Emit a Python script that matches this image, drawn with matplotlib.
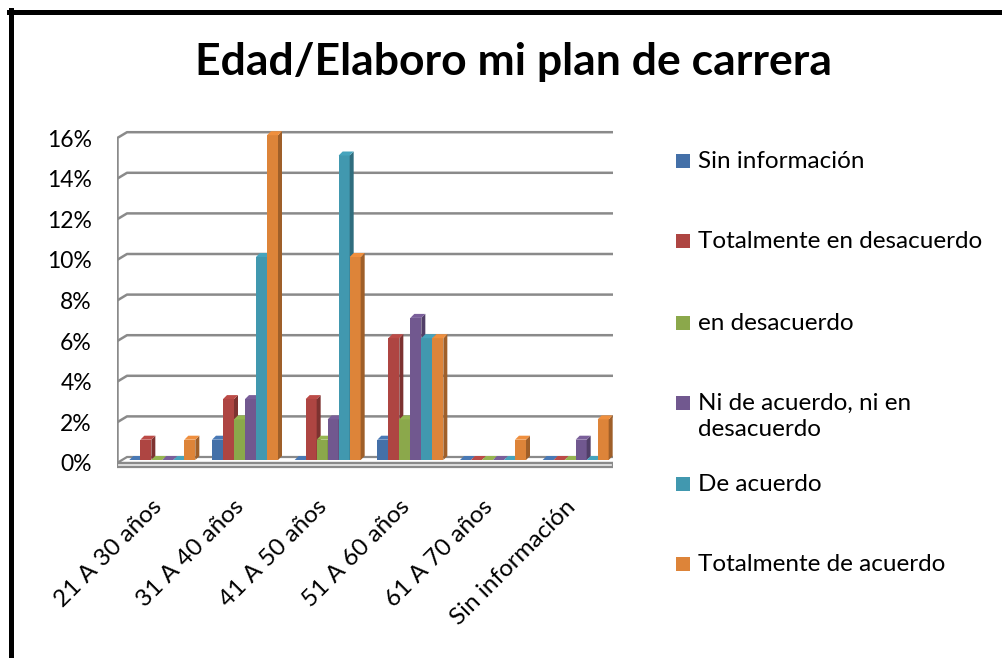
import numpy as np
import matplotlib
matplotlib.use("Agg")
import matplotlib.pyplot as plt
from matplotlib.patches import Polygon, Rectangle
from matplotlib.lines import Line2D
import matplotlib.colors as mcolors

plt.rcParams['font.family'] = ['Lato', 'DejaVu Sans']

# data (percent)
categories = ["21 A 30 años", "31 A 40 años", "41 A 50 años",
              "51 A 60 años", "61 A 70 años", "Sin información"]
series_names = ["Sin información", "Totalmente en desacuerdo", "en desacuerdo",
                "Ni de acuerdo, ni en\ndesacuerdo", "De acuerdo",
                "Totalmente de acuerdo"]
sin_info = [0, 1, 0, 1, 0, 0]
tot_desacuerdo = [1, 3, 3, 6, 0, 0]
en_desacuerdo = [0, 2, 1, 2, 0, 0]
ni_ni = [0, 3, 2, 7, 0, 1]
de_acuerdo = [0, 10, 15, 6, 0, 0]
tot_acuerdo = [1, 16, 10, 6, 1, 2]
yticks = [0, 2, 4, 6, 8, 10, 12, 14, 16]

series = [sin_info, tot_desacuerdo, en_desacuerdo, ni_ni, de_acuerdo, tot_acuerdo]
colors = ["#4470a8", "#ae4542", "#8ba84b", "#71588f", "#4198af", "#dd8439"]

W, H = 1003, 658
fig = plt.figure(figsize=(W / 100, H / 100), dpi=100)

# front plane: x -0.5..5.5 -> px 117..613, y 0 -> px 463, 20.3 px per unit
ppy = 20.3
ylo, yhi = -0.5, 16.5
ax_bottom_px = 463 + (0 - ylo) * ppy
ax_h_px = (yhi - ylo) * ppy
ax = fig.add_axes([117 / W, 1 - ax_bottom_px / H, 496 / W, ax_h_px / H])
ax.set_xlim(-0.5, 5.5)
ax.set_ylim(ylo, yhi)
for s in ax.spines.values():
    s.set_visible(False)

ux = 6 / 496.0
uy = 1 / ppy

grid_c = "#8a8a8a"
back_dx, back_dy = 10 * ux, 6 * uy

# floor
fl_front = -4 * uy
ax.add_patch(Polygon([(-0.5, 0), (5.5, 0), (5.5 + back_dx, back_dy), (-0.5 + back_dx, back_dy)],
                     closed=True, facecolor="white", edgecolor=grid_c, lw=1.6, zorder=1))
ax.add_patch(Polygon([(-0.5, 0), (5.5, 0), (5.5, fl_front), (-0.5, fl_front)],
                     closed=True, facecolor="#e6e6e6", edgecolor=grid_c, lw=1.6, zorder=1))
ax.add_patch(Polygon([(5.5, 0), (5.5 + back_dx, back_dy), (5.5 + back_dx, back_dy + fl_front), (5.5, fl_front)],
                     closed=True, facecolor="#d0d0d0", edgecolor=grid_c, lw=1.2, zorder=1))

# left wall edge and gridlines
ax.plot([-0.5, -0.5], [0, yticks[-1]], color=grid_c, lw=1.8, zorder=1, solid_capstyle="butt")
for v in yticks[1:]:
    ax.plot([-0.5, -0.5 + back_dx, 5.5 + back_dx], [v, v + back_dy, v + back_dy],
            color=grid_c, lw=1.8, zorder=1)

# 3D-looking bars
w = 11 * ux
bx, by = 4 * ux, 3 * uy
ddx, ddy = 4 * ux, 4 * uy
z = 2
for i in range(len(categories)):
    for j, (vals, col) in enumerate(zip(series, colors)):
        v = vals[i]
        x0 = i - 3 * w + j * w + bx
        b = by
        rgb = np.array(mcolors.to_rgb(col))
        side = rgb * 0.72
        top = np.clip(rgb * 1.08, 0, 1)
        ax.bar(x0, v, width=w, bottom=b, align="edge", color=col, lw=0, zorder=z)
        ax.add_patch(Polygon([(x0 + w, b), (x0 + w + ddx, b + ddy), (x0 + w + ddx, b + v + ddy), (x0 + w, b + v)],
                             closed=True, facecolor=side, lw=0, zorder=z + 0.1))
        ax.add_patch(Polygon([(x0, b + v), (x0 + ddx, b + v + ddy), (x0 + w + ddx, b + v + ddy), (x0 + w, b + v)],
                             closed=True, facecolor=top, lw=0, zorder=z + 0.2))
        z += 1

ax.set_yticks(yticks)
ax.set_yticklabels([f"{t}%" for t in yticks], fontsize=16.5)
ax.tick_params(axis="y", length=0, pad=18)
ax.set_xticks(range(len(categories)))
ax.set_xticklabels(categories, rotation=45, ha="right", va="center",
                   rotation_mode="anchor", fontsize=17.5)
ax.tick_params(axis="x", length=0, pad=22)

fig.text(0.512, 1 - 62 / H, "Edad/Elaboro mi plan de carrera", ha="center", va="center",
         fontsize=32, fontweight="bold")

# legend (first-line centres in px)
leg_y = [161, 241, 323, 403, 484, 564]
for name, col, yp in zip(series_names, colors, leg_y):
    fig.add_artist(Rectangle((676 / W, 1 - (yp + 7) / H), 14 / W, 14 / H,
                             transform=fig.transFigure, facecolor=col, edgecolor="none"))
    fig.text(698 / W, 1 - (yp - 10) / H, name, ha="left", va="top",
             fontsize=17.5, linespacing=1.3)

# chart border (only left and top visible)
fig.add_artist(Line2D([10.5 / W, 10.5 / W], [0, 1 - 10 / H], color="black", lw=3.6))
fig.add_artist(Line2D([9 / W, 1], [1 - 11.5 / H, 1 - 11.5 / H], color="black", lw=3.6))

fig.savefig("out.png", dpi=100)
